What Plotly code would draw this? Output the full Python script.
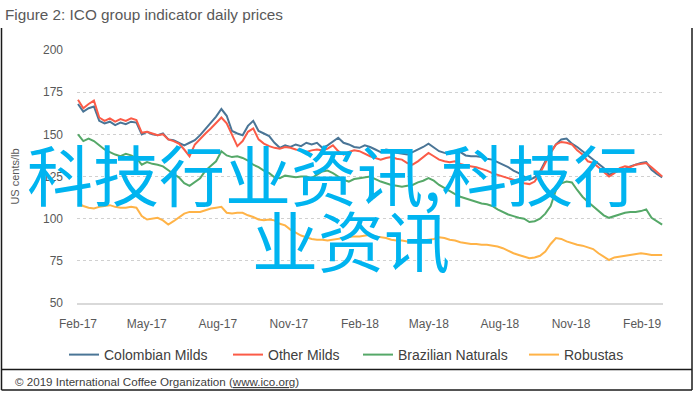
import pandas as pd
import plotly.graph_objects as go

# ---- data (roughly weekly) ----
start_date = "2017-02-01"
end_date = "2019-02-27"

colombian_milds = [
    168, 163.5, 165.5, 166.5, 158, 156.5, 157.5, 155.5, 157, 156, 157.5, 157,
    150, 151.5, 150, 149.5, 150.5, 147, 146.5, 145, 143.5, 145, 146.5, 149.5,
    153, 157, 160.5, 165, 161, 152, 150.5, 149.5, 155, 158, 152, 150.5,
    149, 145, 142, 143.5, 142.5, 144, 143, 145, 144, 145, 142, 143.5,
    146, 148, 145, 144, 142.5, 142, 143.5, 142.5, 141, 139.5, 141, 140.5,
    139, 138.5, 138, 139.5, 141, 142.5, 144.5, 142, 140, 139, 138.5, 140,
    139.5, 137.5, 137, 137, 136.5, 135.5, 135, 133.5, 132, 130.5, 128.5, 127,
    125, 123, 124.5, 128, 134, 139.5, 144, 147, 147.5, 144.5, 142.5, 140,
    137.5, 135, 133, 130, 126, 127.5, 128.5, 129.5, 131, 132, 133, 133.5,
    129, 126.5, 124.5,
]
other_milds = [
    170.5, 165.5, 168, 170, 160, 158, 159.5, 157.5, 159, 158, 159.5, 158.5,
    151, 151.5, 150.5, 149.5, 150, 147, 146, 144.5, 141, 137, 144, 147.5,
    150.5, 153.5, 157, 160, 156.5, 149.5, 143, 146, 151.5, 153.5, 147, 144.5,
    143, 142, 141.5, 142.5, 142, 141, 140.5, 139.5, 140.5, 141, 140.5, 141.5,
    143.5, 140, 138, 139.5, 140.5, 140, 138.5, 137, 136, 135, 136, 136.5,
    135.5, 135, 133, 132, 134, 136.5, 139, 137, 135, 134, 133.5, 134,
    132.5, 131.5, 131, 130.5, 129.5, 128.5, 127, 126, 125, 124, 123, 122,
    121, 120.5, 122, 127, 133, 139, 144, 145.5, 145, 144, 140.5, 138,
    134, 133, 130.5, 127.5, 125, 127, 130, 131, 130.5, 132, 132.5, 133,
    130.5, 128, 125,
]
brazilian_naturals = [
    150, 146, 147.5, 146, 143.5, 141, 139.5, 138, 137, 138.5, 137.5, 136,
    132, 133.5, 132.5, 132, 131, 128.5, 126.5, 124.5, 121, 119.5, 122, 124,
    128.5, 131.5, 134, 140, 137.5, 136.5, 137, 136, 134.5, 132, 130.5, 128.5,
    127, 124.5, 124, 125.5, 125, 124.5, 125, 125, 124, 126, 128, 128.5,
    127, 125, 123, 122, 123.5, 124, 124.5, 125, 123.5, 122, 121, 120,
    119.5, 119, 119.5, 120, 121.5, 122.5, 124, 122.5, 120, 118, 116, 114.5,
    113, 112, 111, 110, 109, 108.5, 107.5, 105.5, 104, 102.5, 101.5, 100.5,
    100, 98, 98.5, 100, 103, 107.5, 117, 121, 122, 121.5, 117, 113,
    110, 107.5, 104.5, 102, 100.5, 101.5, 102.5, 103.5, 104, 104, 104.5, 105.5,
    100.5, 98.5, 96.5,
]
robustas = [
    109, 107.5, 106.5, 106, 107, 107.5, 108, 107, 106.5, 106.5, 107, 106.5,
    101.5, 99.5, 100, 100.5, 99, 96.5, 98.5, 101, 103, 104, 104, 104,
    105, 106, 106.5, 107, 103.5, 103, 103.5, 103.5, 102, 101, 99.5, 99,
    99.5, 99, 97, 96, 93.5, 91.5, 90, 89, 88, 87.5, 87.5, 87,
    87.5, 88, 88.5, 89, 89.5, 89.5, 90, 90.5, 89.5, 89, 88.5, 87.5,
    87, 87, 86.5, 86.5, 86.5, 87, 87.5, 88, 89, 88.5, 87.5, 87,
    86, 85.5, 85, 85, 84.5, 84.5, 84, 83.5, 82.5, 81, 79.5, 78.5,
    77.5, 76.5, 77, 78, 80.5, 85, 88.5, 88, 86.5, 85.5, 84.5, 84,
    83, 82, 79.5, 77.5, 75.5, 77, 77.5, 78, 78.5, 79, 79.5, 79,
    78.5, 78.5, 78.5,
]

series_names = ["Colombian Milds", "Other Milds", "Brazilian Naturals", "Robustas"]
series_colors = ["#4a7596", "#fb5b47", "#55a868", "#ffb347"]

tick_dates = ["2017-02-01", "2017-05-01", "2017-08-01", "2017-11-01", "2018-02-01",
              "2018-05-01", "2018-08-01", "2018-11-01", "2019-02-01"]
tick_labels = ["Feb-17", "May-17", "Aug-17", "Nov-17", "Feb-18",
               "May-18", "Aug-18", "Nov-18", "Feb-19"]
y_ticks = [50, 75, 100, 125, 150, 175, 200]

dates = pd.date_range(start_date, end_date, periods=len(colombian_milds))

# ---- layout geometry (pixels) ----
W, H = 695, 394
L, R, T, B = 77, 32, 50, 91
PW, PH = W - L - R, H - T - B


def px(x):
    return (x - L) / PW


def py(y):
    return (H - B - y) / PH


legend_ids = ["legend", "legend2", "legend3", "legend4"]
legend_left_px = [64, 228, 358, 524]   # where each legend entry box starts

fig = go.Figure()
for name, vals, col, lg in zip(series_names,
                               [colombian_milds, other_milds, brazilian_naturals, robustas],
                               series_colors, legend_ids):
    fig.add_trace(go.Scatter(x=dates, y=vals, mode="lines", name=name, legend=lg,
                             line=dict(color=col, width=2)))

font_main = "Liberation Sans, Arial, sans-serif"
legend_common = dict(orientation="h", xref="container", yref="container",
                     xanchor="left", y=1 - 355 / H, yanchor="middle",
                     font=dict(size=14, color="#404040"), itemwidth=30,
                     bgcolor="rgba(0,0,0,0)")
legends = {lg: dict(legend_common, x=xl / W) for lg, xl in zip(legend_ids, legend_left_px)}

fig.update_layout(
    width=W, height=H,
    margin=dict(l=L, r=R, t=T, b=B, autoexpand=False),
    paper_bgcolor="white", plot_bgcolor="white",
    font=dict(family=font_main, color="#595959", size=12),
    title=dict(text="Figure 2: ICO group indicator daily prices",
               x=5 / W, xanchor="left", xref="container",
               y=1 - 15 / H, yanchor="middle", yref="container",
               font=dict(size=15.3, color="#595959", family=font_main)),
    showlegend=True,
    xaxis=dict(type="date", range=["2017-01-30 17:00", "2019-02-28 02:00"],
               tickvals=tick_dates, ticktext=tick_labels, automargin=False,
               showgrid=False, zeroline=False, showline=True,
               linecolor="#d9d9d9", linewidth=1.5, ticks="",
               ticklabelstandoff=9,
               tickfont=dict(size=12, color="#595959")),
    yaxis=dict(range=[50, 200], tickvals=y_ticks, showgrid=True, automargin=False,
               gridcolor="#d0d0d0", griddash="dot", gridwidth=1,
               zeroline=False, ticks="", ticklabelstandoff=13,
               tickfont=dict(size=12, color="#595959"),
               title=dict(text="US cents/lb", standoff=21,
                          font=dict(size=11, color="#595959"))),
    **legends,
)

# watermark text overlaying the chart
wm_font = dict(family="Noto Sans CJK SC", size=66, color="#00b4f0")
fig.add_annotation(text="科技行业资讯,科技行", xref="paper", yref="paper",
                   x=px(25), y=py(172), xanchor="left", yanchor="middle",
                   showarrow=False, font=wm_font)
fig.add_annotation(text="业资讯", xref="paper", yref="paper",
                   x=px(250), y=py(238), xanchor="left", yanchor="middle",
                   showarrow=False, font=wm_font)

# footer
fig.add_annotation(text="© 2019 International Coffee Organization (<u>www.ico.org</u>)",
                   xref="paper", yref="paper", x=px(13), y=py(381),
                   xanchor="left", yanchor="middle", showarrow=False,
                   font=dict(size=11.6, color="#404040", family=font_main))

# frame lines
frame = dict(color="#1a1a1a", width=1.5)
fig.add_shape(type="line", xref="paper", yref="paper", x0=px(1.5), x1=px(1.5),
              y0=py(28), y1=py(390), line=frame)
fig.add_shape(type="line", xref="paper", yref="paper", x0=px(692), x1=px(692),
              y0=py(28), y1=py(390), line=frame)
fig.add_shape(type="line", xref="paper", yref="paper", x0=px(1.5), x1=px(692),
              y0=py(390), y1=py(390), line=frame)
fig.add_shape(type="line", xref="paper", yref="paper", x0=px(1.5), x1=px(692),
              y0=py(369.5), y1=py(369.5), line=frame)

fig.write_html("out.html", config={"displayModeBar": False},
               post_script="document.body.style.margin='0';document.body.style.overflow='hidden';")
